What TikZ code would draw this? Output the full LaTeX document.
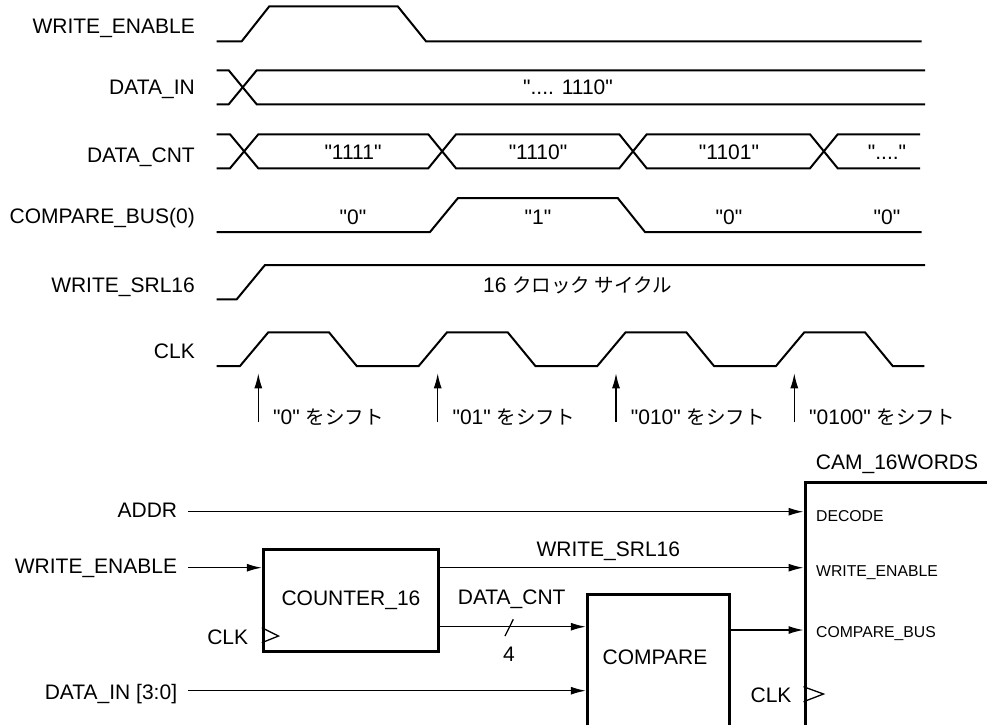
\documentclass[tikz,border=0pt]{standalone}
\usepackage{fontspec}
\setmainfont{Liberation Sans}[Ligatures=TeXOff]
\newfontfamily\jp[Scale=0.93]{Noto Sans CJK JP}
\usetikzlibrary{arrows.meta}

\tikzset{
  wave/.style={line width=2pt},
  wire/.style={line width=1.3pt},
  sigarrow/.style={wire, -{Latex[length=15pt,width=8pt]}},
  blk/.style={draw, line width=3pt, inner sep=0pt},
  lbl/.style={inner sep=0pt, font=\fontsize{21}{25}\selectfont},
  port/.style={inner sep=0pt, anchor=base west, font=\fontsize{15.75}{19}\selectfont},
}

\begin{document}
\begin{tikzpicture}[x=1pt, y=-1pt]
\useasboundingbox (0,0) rectangle (987,724);
\fill[white] (0,0) rectangle (987,724);
\clip (0,0) rectangle (987,724);

% ======================= TIMING: Signalnamen =======================
\node[lbl, anchor=base east] (tWe)  at (195,33.3)  {WRITE\_ENABLE};
\node[lbl, anchor=base east] (tDin) at (195,94.3)  {DATA\_IN};
\node[lbl, anchor=base east] (tDc)  at (195,162.3) {DATA\_CNT};
\node[lbl, anchor=base east] (tCb)  at (195,223.3) {COMPARE\_BUS(0)};
\node[lbl, anchor=base east] (tSrl) at (195,292.3) {WRITE\_SRL16};
\node[lbl, anchor=base east] (tClk) at (195,358.3) {CLK};

% WRITE_ENABLE
\draw[wave] (216.7,41.3) -- (241.7,41.3) -- (269.3,6.3) -- (397.7,6.3) -- (426,41.3) -- (921.7,41.3);

% DATA_IN
\draw[wave] (216.7,70.3) -- (228.7,70.3) -- (256.7,104.3) -- (925,104.3);
\draw[wave] (216.7,104.3) -- (228.7,104.3) -- (256.7,70.3) -- (925,70.3);
\node[lbl, anchor=base] (vDin) at (568,94.3) {".... 1110"};

% DATA_CNT
\draw[wave] (216.7,134.3) -- (230,134.3) -- (258.3,168.3) -- (428.3,168.3) -- (456,134.3)
  -- (619.3,134.3) -- (646.7,168.3) -- (810,168.3) -- (837.7,134.3) -- (920,134.3);
\draw[wave] (216.7,168.3) -- (230,168.3) -- (258.3,134.3) -- (428.3,134.3) -- (456,168.3)
  -- (619.3,168.3) -- (646.7,134.3) -- (810,134.3) -- (837.7,168.3) -- (920,168.3);
\node[lbl, anchor=base] (vDc1) at (353,159.3) {"1111"};
\node[lbl, anchor=base] (vDc2) at (538,159.3) {"1110"};
\node[lbl, anchor=base] (vDc3) at (729,159.3) {"1101"};
\node[lbl, anchor=base] (vDc4) at (887,159.3) {"...."};

% COMPARE_BUS(0)
\draw[wave] (216.7,232) -- (430,232) -- (458,198) -- (617.7,198) -- (645,232) -- (921.7,232);
\node[lbl, anchor=base] (vCb1) at (353,224) {"0"};
\node[lbl, anchor=base] (vCb2) at (538,224) {"1"};
\node[lbl, anchor=base] (vCb3) at (729,224) {"0"};
\node[lbl, anchor=base] (vCb4) at (887,224) {"0"};

% WRITE_SRL16
\draw[wave] (216.7,299.3) -- (236.7,299.3) -- (265,265) -- (925,265);
\node[lbl, anchor=base west] (vSrl) at (483,292.3) {16 {\jp クロック サイクル}};

% CLK
\draw[wave] (216.7,366)
  \foreach \x in {240,418.7,597.3,776} { -- (\x,366) -- ++(28.3,-33.7) -- ++(60.7,0) -- ++(27.7,33.7) }
  -- (924.3,366);

% Schiebe-Flanken
\foreach \x/\txt [count=\k] in {258.3/"0", 437.7/"01", 616/"010", 794.3/"0100"} {
  \coordinate (sh\k) at (\x,421.7);
  \draw[sigarrow] (sh\k) -- ++(0,-48.4);
  \node[lbl, anchor=base west] (shl\k) at (\x+14.7,424) {\txt\ {\jp をシフト}};
}

% ======================= BLOCKSCHALTBILD =======================
\node[lbl, anchor=base east] (addr) at (177.3,517.3) {ADDR};
\node[lbl, anchor=base east] (we)   at (177.3,573.3) {WRITE\_ENABLE};
\node[lbl, anchor=base east] (din)  at (177.3,699.3) {DATA\_IN [3:0]};

% Bloecke
\node[blk, lbl, minimum width=175.4pt, minimum height=101.7pt] (cnt) at (351,600.2) {COUNTER\_16};
\node[blk, minimum width=142pt, minimum height=165.7pt] (cmp) at (658.3,677.2) {};
\node[lbl, anchor=base] (cmpT) at (655,664) {COMPARE};
\node[blk, minimum width=195pt, minimum height=277.3pt] (cam) at (902.5,621.4) {};
\node[lbl, anchor=base] (camT) at (897,469.3) {CAM\_16WORDS};
\node[port] (pDec) at (816,521.7) {DECODE};
\node[port] (pWe)  at (816,576)   {WRITE\_ENABLE};
\node[port] (pCb)  at (816,637.3) {COMPARE\_BUS};

% Takteingaenge
\node[lbl, anchor=base east] (clkA) at (248.3,644.3) {CLK};
\draw[wire] ([yshift=-27.5pt]cnt.west) -- ++(16.7,8.3) -- ++(-16.7,6.7);
\node[lbl, anchor=base east] (clkB) at (791.7,702.7) {CLK};
\draw[wire] ([yshift=-65.3pt]cam.west) -- ++(20,7.3) -- ++(-20,7.7);

% Verbindungen
\coordinate (addrS) at (188.3,511.7);
\draw[sigarrow] (addrS) -- (addrS -| cam.west);
\coordinate (weS) at (188.3,567.7);
\draw[sigarrow] (weS) -- (weS -| cnt.west);
\draw[sigarrow] (weS -| cnt.east) -- (weS -| cam.west);
\node[lbl, anchor=base] (srlT) at (608.3,556.7) {WRITE\_SRL16};

\coordinate (dcS) at ([yshift=-26.5pt]cnt.east);
\draw[sigarrow] (dcS) -- (dcS -| cmp.west);
\node[lbl, anchor=base] (dcT) at (511.7,604) {DATA\_CNT};
\draw[wire] (513.3,619.3) -- (505,636);
\node[lbl, anchor=base] (dcW) at (509,661.7) {4};

\coordinate (dinS) at (188.3,690.7);
\draw[sigarrow] (dinS) -- (dinS -| cmp.west);

\coordinate (cbS) at ([yshift=47.2pt]cmp.east);
\draw[sigarrow] (cbS) -- (cbS -| cam.west);

\end{tikzpicture}
\end{document}
